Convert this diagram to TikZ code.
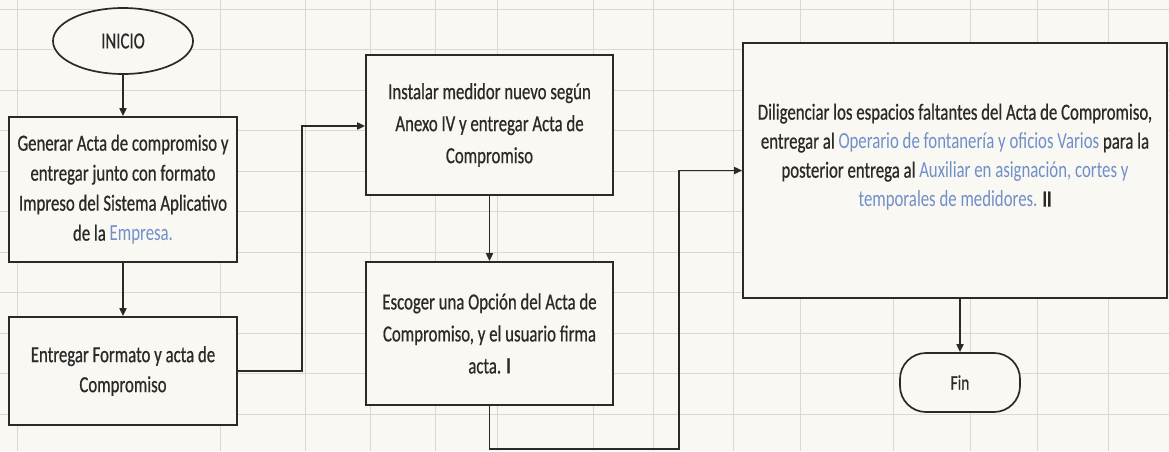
\documentclass[tikz,border=0pt]{standalone}
\usepackage{fontspec}
\setmainfont[FakeStretch=0.73,FakeBold=0.6]{Carlito}
\newfontfamily\thinfont[FakeStretch=0.73]{Carlito}
\usetikzlibrary{arrows.meta,shapes.geometric}
\definecolor{bg}{HTML}{FAF8F2}
\definecolor{gridc}{HTML}{DAD8D2}
\definecolor{ink}{HTML}{2A2A2A}
\definecolor{lnk}{HTML}{6F8FCB}
\newcommand{\lk}[1]{{\thinfont\textcolor{lnk}{#1}}}
\tikzset{
  stepbox/.style={draw=ink, line width=1.7pt, fill=bg, align=center, text=ink, inner sep=0pt},
  term/.style={stepbox, ellipse},
  endterm/.style={stepbox, rounded corners=26pt},
  txt/.style={align=center, text=ink, inner sep=0pt},
  arr/.style={draw=ink, line width=1.7pt, -{Triangle[width=7pt,length=8pt]}},
  gridline/.style={draw=gridc, line width=0.8pt}
}
\begin{document}
\begin{tikzpicture}[x=1pt,y=-1pt]
\fill[bg] (0,0) rectangle (1169,451);
\useasboundingbox (0,0) rectangle (1169,451);
% spreadsheet grid
\foreach \yy in {9,49.5,90,130.5,171,211.5,252,292.5,333,373.5,414}
  \draw[gridline] (0,\yy) -- (1169,\yy);
\foreach \xx in {17,220,305,370,435,497,593,653,733,800,893,970,1037,1108}
  \draw[gridline] (\xx,0) -- (\xx,451);

% nodes
\node[term, minimum width=140pt, minimum height=66pt, font=\fontsize{23}{26}\selectfont] (ini) at (123,41) {INICIO};
\node[stepbox, minimum width=228pt, minimum height=145pt, font=\fontsize{23}{30}\selectfont] (b1) at (123,189.5)
  {Generar Acta de compromiso y\\ entregar junto con formato\\ Impreso del Sistema Aplicativo\\ de la \lk{Empresa.}};
\node[stepbox, minimum width=228pt, minimum height=108pt, font=\fontsize{23}{30}\selectfont] (b2) at (123,371)
  {Entregar Formato y acta de\\ Compromiso};
\node[stepbox, minimum width=247pt, minimum height=140pt, font=\fontsize{23}{32}\selectfont] (b3) at (489.5,125)
  {Instalar medidor nuevo según\\ Anexo IV y entregar Acta de\\ Compromiso};
\node[stepbox, minimum width=247pt, minimum height=143pt, font=\fontsize{23}{32}\selectfont] (b4) at (489.5,333.5)
  {Escoger una Opción del Acta de\\ Compromiso, y el usuario firma\\ acta. \textbf{I}};
\node[stepbox, minimum width=424pt, minimum height=255pt] (b5) at (955,170.5) {};
\node[txt, font=\fontsize{23}{29}\selectfont] (t5) at (955,157)
  {Diligenciar los espacios faltantes del Acta de Compromiso,\\
   entregar al \lk{Operario de fontanería y oficios Varios} para la\\
   posterior entrega al \lk{Auxiliar en asignación, cortes y}\\
   \lk{temporales de medidores.} \textbf{II}};
\node[endterm, minimum width=120pt, minimum height=59pt, font=\fontsize{21}{24}\selectfont] (fin) at (960,382.5) {Fin};

\coordinate (c1) at (302,126);
\coordinate (c2) at (679,449);

% connectors
\draw[arr] (ini) -- (b1);
\draw[arr] (b1) -- (b2);
\draw[arr] (b2.east) -| (c1) -- (b3.west |- c1);
\draw[arr] (b3) -- (b4);
\draw[arr] (b4.south) |- (c2) |- (b5.west);
\draw[arr] (fin.north |- b5.south) -- (fin.north);
\end{tikzpicture}
\end{document}
